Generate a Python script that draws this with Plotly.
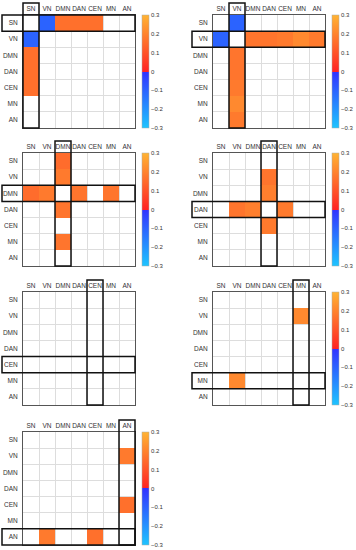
import plotly.graph_objects as go

networks = ["SN", "VN", "DMN", "DAN", "CEN", "MN", "AN"]

# connection strengths of the highlighted network with each other network (None = not significant)
sn_values = [None, -0.10, 0.16, 0.16, 0.16, None, None]
vn_values = [-0.10, None, 0.17, 0.17, 0.18, 0.21, 0.18]
dmn_values = [0.15, 0.18, None, 0.17, None, 0.17, None]
dan_values = [None, 0.17, 0.19, None, 0.18, None, None]
cen_values = [None, None, None, None, None, None, None]
mn_values = [None, 0.21, None, None, None, None, None]
an_values = [None, 0.18, None, None, 0.16, None, None]

panels = [
    ("SN", sn_values),
    ("VN", vn_values),
    ("DMN", dmn_values),
    ("DAN", dan_values),
    ("CEN", cen_values),
    ("MN", mn_values),
    ("AN", an_values),
]

cb_ticks = [0.3, 0.2, 0.1, 0, -0.1, -0.2, -0.3]
cb_ticktext = ["0.3", "0.2", "0.1", "0", "\u22120.1", "\u22120.2", "\u22120.3"]

colorscale = [
    [0.0, "#1ec4ff"],
    [0.5, "#3232ff"],
    [0.5, "#ff2323"],
    [1.0, "#ffb434"],
]

W, H = 356, 550
col_left = [23, 213]
row_top = [15, 153, 292, 432]
map_w, map_h = 112, 113
n = len(networks)
cell_w = map_w / n
cell_h = map_h / n
font_family = "Liberation Sans, Arial, sans-serif"
text_color = "#333333"

fig = go.Figure()
shapes = []
layout_extra = {}

for k, (focus, vals) in enumerate(panels):
    r, c = divmod(k, 2)
    x0 = col_left[c]
    top = row_top[r]
    fi = networks.index(focus)
    # build symmetric cross-shaped matrix
    z = [[None] * n for _ in range(n)]
    for j, v in enumerate(vals):
        if v is not None:
            z[fi][j] = v
            z[j][fi] = v
    ax = "" if k == 0 else str(k + 1)
    cax = "coloraxis" + ("" if k == 0 else str(k + 1))
    fig.add_trace(go.Heatmap(
        z=z, x=networks, y=networks,
        xaxis="x" + ax, yaxis="y" + ax,
        coloraxis=cax,
        hoverongaps=False,
    ))
    layout_extra[cax] = dict(
        colorscale=colorscale, cmin=-0.3, cmax=0.3, cauto=False,
        showscale=True,
        colorbar=dict(
            x=(x0 + map_w + 7) / W, xanchor="left", xpad=0,
            y=1 - (top + map_h / 2) / H, yanchor="middle", ypad=0,
            lenmode="pixels", len=map_h, thickness=7,
            tickvals=cb_ticks, ticktext=cb_ticktext, ticks="",
            tickfont=dict(size=6, color=text_color, family=font_family),
            outlinewidth=0.5, outlinecolor="#aaaaaa",
        ),
    )
    axis_common = dict(
        type="category", categoryorder="array", categoryarray=networks,
        tickson="boundaries", showgrid=True, tickangle=0,
        gridcolor="#dddddd", gridwidth=1, ticks="", ticklen=0,
        showline=True, mirror=True, linecolor="#555555", linewidth=1,
        zeroline=False, fixedrange=True, automargin=False,
        tickfont=dict(size=6.5, color=text_color, family=font_family),
    )
    layout_extra["xaxis" + ax] = dict(
        axis_common, domain=[x0 / W, (x0 + map_w) / W], side="top",
        anchor="y" + ax, range=[-0.5, n - 0.5],
    )
    layout_extra["yaxis" + ax] = dict(
        axis_common, domain=[1 - (top + map_h) / H, 1 - top / H],
        anchor="x" + ax, range=[n - 0.5, -0.5], ticklabelstandoff=3,
    )
    # highlight boxes
    line = dict(color="#111111", width=1.5)
    shapes.append(dict(
        type="rect", xref="paper", yref="paper",
        x0=(x0 - 21) / W, x1=(x0 + map_w) / W,
        y0=1 - (top + (fi + 1) * cell_h) / H, y1=1 - (top + fi * cell_h) / H,
        line=line, fillcolor="rgba(0,0,0,0)", layer="above",
    ))
    shapes.append(dict(
        type="rect", xref="paper", yref="paper",
        x0=(x0 + fi * cell_w) / W, x1=(x0 + (fi + 1) * cell_w) / W,
        y0=1 - (top + map_h) / H, y1=1 - (top - 12) / H,
        line=line, fillcolor="rgba(0,0,0,0)", layer="above",
    ))

fig.update_layout(
    width=W, height=H,
    margin=dict(l=0, r=0, t=0, b=0, autoexpand=False),
    paper_bgcolor="white", plot_bgcolor="white",
    showlegend=False,
    shapes=shapes,
    font=dict(family=font_family, color=text_color),
    **layout_extra,
)

fig.write_html(
    "out.html",
    config={"displayModeBar": False},
    post_script="document.body.style.margin='0';document.body.style.overflow='hidden';",
)
